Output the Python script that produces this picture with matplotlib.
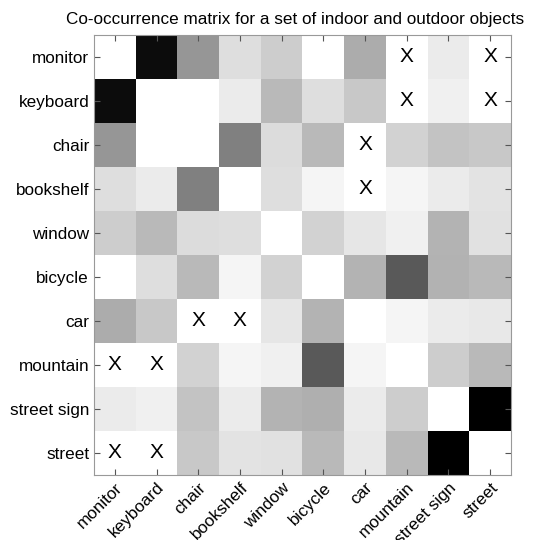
import numpy as np
import matplotlib
matplotlib.use('Agg')
import matplotlib.pyplot as plt

plt.rcParams['font.family'] = ['Liberation Sans', 'DejaVu Sans']

LABELS = ['monitor', 'keyboard', 'chair', 'bookshelf', 'window',
          'bicycle', 'car', 'mountain', 'street sign', 'street']

# gray level of every cell, 0 = black, 255 = white
GRAY = [
    [255,  12, 150, 222, 205, 255, 172, 255, 235, 255],
    [ 12, 255, 255, 235, 185, 222, 200, 255, 240, 255],
    [150, 255, 255, 128, 220, 185, 255, 210, 195, 200],
    [222, 235, 128, 255, 222, 245, 255, 245, 235, 228],
    [205, 185, 220, 222, 255, 210, 230, 240, 180, 225],
    [255, 222, 185, 245, 210, 255, 180,  90, 178, 185],
    [172, 200, 255, 255, 230, 180, 255, 245, 235, 232],
    [255, 255, 210, 245, 240,  90, 245, 255, 205, 185],
    [235, 240, 195, 235, 180, 175, 235, 205, 255,   0],
    [255, 255, 200, 228, 225, 185, 232, 185,   0, 255],
]

# cells marked with an X (row, col)
MARKED = [(0, 7), (0, 9), (1, 7), (1, 9), (2, 6), (3, 6),
          (6, 2), (6, 3), (7, 0), (7, 1), (9, 0), (9, 1)]


def main():
    fig = plt.figure(figsize=(5.4, 5.4), dpi=100)
    ax = fig.add_axes([94 / 540, 1 - 475 / 540, 417 / 540, 440 / 540])

    ax.imshow(np.array(GRAY), cmap='gray', vmin=0, vmax=255,
              interpolation='nearest', aspect='auto')

    for r, c in MARKED:
        ax.text(c, r, 'X', ha='center', va='center', fontsize=15)

    n = len(LABELS)
    ax.set_xticks(range(n))
    ax.set_yticks(range(n))
    ax.set_xticklabels(LABELS, rotation=45, ha='right', rotation_mode='anchor',
                       fontsize=12.3)
    ax.set_yticklabels(LABELS, fontsize=12.3)
    ax.tick_params(direction='in', top=True, right=True, length=4,
                   color='#555555')
    for s in ax.spines.values():
        s.set_color('#999999')

    ax.set_title('Co-occurrence matrix for a set of indoor and outdoor objects',
                 fontsize=12.3, pad=8, x=0.482)

    fig.savefig('out.png', dpi=100)


if __name__ == "__main__":
    main()
